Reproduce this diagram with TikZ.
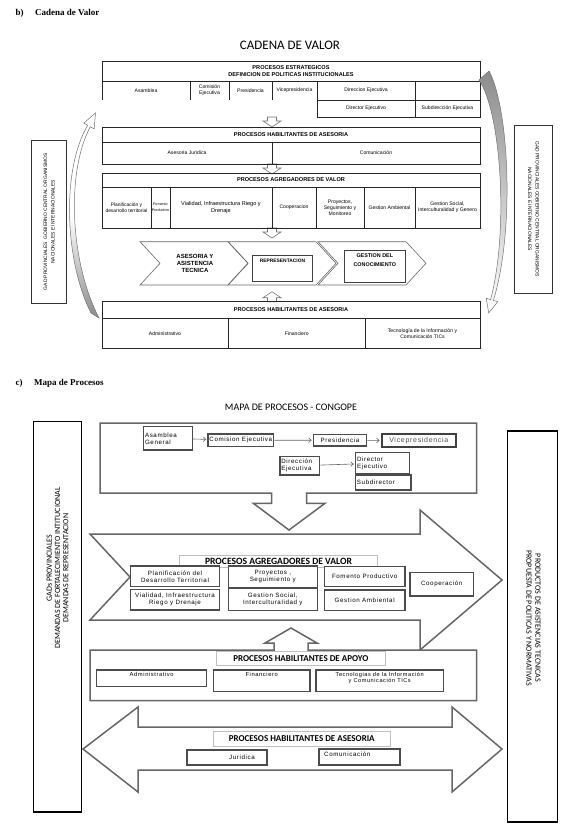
\documentclass[tikz,border=0pt]{standalone}
\usepackage{fontspec}
\setmainfont{Liberation Sans}
\newfontfamily\calibrifont{Carlito}
\newfontfamily\titlefont{Liberation Serif}
\newfontfamily\spacedfont[LetterSpace=10]{Liberation Sans}
\usetikzlibrary{arrows.meta, positioning, calc}
\tikzset{
    tbl_line/.style={draw=black!85, line width=0.6pt},
    tbl_head/.style={font=\bfseries\fontsize{5.6}{6.8}\selectfont, align=center, inner sep=0pt},
    tbl_txt/.style={font=\fontsize{5.1}{6.2}\selectfont, align=center, inner sep=0pt},
    blk_arrow/.style={draw=black!55, fill=white, line width=0.6pt},
    chevron_line/.style={draw=black!60, line width=0.6pt},
    chev_txt/.style={font=\bfseries\fontsize{6}{7}\selectfont, align=center, inner sep=0pt},
    inner_box/.style={draw=black!75, line width=0.9pt},
    side_box/.style={draw=black!80, line width=0.6pt, font=\fontsize{4.9}{7.4}\selectfont, align=center, inner sep=0pt},
    curve_band/.style={draw=black!55, line width=0.5pt, top color=white, bottom color=black!45, middle color=white},
    map_shape/.style={draw=black!60, line width=1.5pt, fill=white},
    map_box/.style={draw=black!70, line width=1.4pt, fill=white, font=\spacedfont\fontsize{6.2}{7}\selectfont, inner sep=1.5pt, align=center},
    map_label/.style={draw=black!25, line width=0.8pt, fill=white, font=\calibrifont\bfseries\fontsize{9}{10}\selectfont, inner sep=0pt},
    map_link/.style={draw=black!60, line width=0.6pt, shorten >=1pt, -{Straight Barb[length=2.5pt, width=4.5pt]}},
    big_box/.style={draw=black, line width=1.3pt},
    big_txt/.style={font=\calibrifont\fontsize{8}{8.4}\selectfont, align=center, inner sep=0pt},
    down_blk/.pic={\draw[blk_arrow] (-4.5,0) -- (4.5,0) -- (4.5,4) -- (9,4) -- (0,10) -- (-9,4) -- (-4.5,4) -- cycle;}
}

\begin{document}
\begin{tikzpicture}[x=1pt, y=-1pt]
    \useasboundingbox (0,0) rectangle (567,834);

    % Titles - Cadena de valor
    \node[anchor=west, font=\titlefont\bfseries\fontsize{9}{10}\selectfont] (secb) at (12,13) {b)\hspace{1.3em}Cadena de Valor};
    \node[font=\calibrifont\fontsize{13}{14}\selectfont] (cvtitle) at (290,45) {CADENA DE VALOR};

    % Procesos estrategicos
    \draw[tbl_line] (102,100) -- (102,61) -- (480,61) -- (480,117) -- (317,117) -- (317,81);
    \draw[tbl_line] (102,81) -- (480,81);
    \draw[tbl_line] (317,100) -- (480,100);
    \foreach \x in {190,229,272} \draw[tbl_line] (\x,81) -- (\x,100);
    \draw[tbl_line] (415,81) -- (415,117);
    \node[tbl_head] (estr) at (291,71) {PROCESOS ESTRATEGICOS\\DEFINICION DE POLITICAS INSTITUCIONALES};
    \node[tbl_txt] (asam) at (146,90.5) {Asamblea};
    \node[tbl_txt] (comi) at (209.5,90.5) {Comisión\\Ejecutiva};
    \node[tbl_txt] (pres) at (250.5,90.5) {Presidencia};
    \node[tbl_txt] (vice) at (294.5,90.5) {Vicepresidencia};
    \node[tbl_txt] (dire) at (366,90.5) {Direccion Ejecutiva};
    \node[tbl_txt] (dtor) at (366,108.5) {Director Ejecutivo};
    \node[tbl_txt] (subd) at (447.5,108.5) {Subdirección Ejecutiva};

    % Arrows between tables
    \foreach \y in {117,164,228} \pic at (272,\y) {down_blk};
    \pic[rotate=180] at (272,301.7) {down_blk};

    % Habilitantes de asesoria
    \draw[tbl_line] (102,127) rectangle (480,164);
    \draw[tbl_line] (102,142) -- (480,142);
    \draw[tbl_line] (272,142) -- (272,164);
    \node[tbl_head] (hab1) at (291,134.5) {PROCESOS HABILITANTES DE ASESORIA};
    \node[tbl_txt] (ajur) at (187,153) {Asesoria Juridica};
    \node[tbl_txt] (acom) at (376,153) {Comunicación};

    % Agregadores de valor
    \draw[tbl_line] (102,173) rectangle (480,228);
    \draw[tbl_line] (102,187) -- (480,187);
    \foreach \x in {151,170,272,316,364,415} \draw[tbl_line] (\x,187) -- (\x,228);
    \node[tbl_head] (agr1) at (291,180) {PROCESOS AGREGADORES DE VALOR};
    \node[tbl_txt, font=\fontsize{4.9}{6.2}\selectfont] (plan) at (126.5,207.5) {Planificación y\\desarrollo territorial};
    \node[tbl_txt, font=\fontsize{3.7}{5.6}\selectfont] (fome) at (160.5,207.5) {Fomento\\Productivo};
    \node[tbl_txt, font=\fontsize{5.6}{6.6}\selectfont] (vial) at (221,207.5) {Vialidad, Infraestructura Riego y\\Drenaje};
    \node[tbl_txt] (coop) at (294,207.5) {Cooperacion};
    \node[tbl_txt] (proy) at (340,207.5) {Proyectos,\\Seguimiento y\\Monitoreo};
    \node[tbl_txt] (gamb) at (389.5,207.5) {Gestion Ambiental};
    \node[tbl_txt] (gsoc) at (447.5,207.5) {Gestion Social,\\Interculturalidad y Genero};

    % Chevrons
    \foreach \x in {140,228,318} \draw[chevron_line] (\x,241.7) -- ++(88,0) -- ++(20,21.6) -- ++(-20,21.7) -- ++(-88,0) -- ++(20,-21.7) -- cycle;
    \node[chev_txt] (asis) at (195,263) {ASESORIA Y\\ASISTENCIA\\TECNICA};
    \node[inner_box, minimum width=60.4pt, minimum height=26.7pt] (repr) at (282.5,268.3) {};
    \node[chev_txt, font=\bfseries\fontsize{4.9}{6}\selectfont, below=4.5pt of repr.north] (reprt) {REPRESENTACION};
    \node[inner_box, minimum width=61.7pt, minimum height=32pt] (gest) at (374.8,266.7) {};
    \node[chev_txt, font=\bfseries\fontsize{5.4}{9}\selectfont, below=3pt of gest.north] (gestt) {GESTION DEL\\CONOCIMIENTO};

    % Habilitantes de asesoria (bottom)
    \draw[tbl_line] (102,301.7) rectangle (480,348.3);
    \draw[tbl_line] (102,318.3) -- (480,318.3);
    \foreach \x in {228.3,365} \draw[tbl_line] (\x,318.3) -- (\x,348.3);
    \node[tbl_head] (hab2) at (291,310) {PROCESOS HABILITANTES DE ASESORIA};
    \node[tbl_txt] (badm) at (165,333.3) {Administrativo};
    \node[tbl_txt] (bfin) at (296.7,333.3) {Financiero};
    \node[tbl_txt] (btic) at (422.5,333.3) {Tecnología de la Información y\\Comunicación TICs};

    % Side boxes and curved arrows
    \node[side_box, rotate=90, minimum width=163.3pt, minimum height=35pt] (gadl) at (49.2,221.7) {GAD PROVINCIALES\ \ GOBIERNO CENTRAL ORGANISMOS\\NACIONALES E INTERNACIONALES};
    \node[side_box, rotate=-90, minimum width=168.3pt, minimum height=38.4pt] (gadr) at (533.5,209.2) {GAD PROVINCIALES  GOBIERNO CENTRAL ORGANISMOS\\NACIONALES E INTERNACIONALES};
    \draw[curve_band] (91,313) .. controls (65,262) and (61,170) .. (87.7,125.3) -- (83.8,123.1) -- (95.5,113) -- (94.2,128.9) -- (90.3,126.7) .. controls (66,172) and (70,262) .. (99,318) -- cycle;
    \draw[curve_band, top color=black!45, bottom color=white] (489,71) .. controls (509,108) and (515,230) .. (493.4,300.4) -- (497.8,301.7) -- (488.7,313) -- (486.2,298.3) -- (490.6,299.6) .. controls (509,230) and (501,112) .. (479,80) -- cycle;

    % Titles - Mapa de procesos
    \node[anchor=west, font=\titlefont\bfseries\fontsize{9}{10}\selectfont] (secc) at (12,383) {c)\hspace{1.3em}Mapa de Procesos};
    \node[font=\calibrifont\fontsize{10}{11}\selectfont] (mptitle) at (291,407) {MAPA DE PROCESOS - CONGOPE};

    % Map shapes
    \draw[map_shape] (100,423) -- (476.7,423) -- (476.7,493) -- (306.7,493) -- (306.7,503.3) -- (325,503.3) -- (289,530) -- (253.3,503.3) -- (271.7,503.3) -- (271.7,493) -- (100,493) -- cycle;
    \draw[map_shape] (90,534) -- (420,534) -- (420,510) -- (502,580) -- (420,650) -- (420,620) -- (90,620) -- (130,577) -- cycle;
    \draw[map_shape] (90,650) -- (274,650) -- (274,643) -- (265,643) -- (291,628) -- (317,643) -- (308,643) -- (308,650) -- (476.7,650) -- (476.7,700.7) -- (90,700.7) -- cycle;
    \draw[map_shape] (83,749) -- (138,707) -- (138,727) -- (452,727) -- (452,707) -- (502,749) -- (452,792) -- (452,770) -- (138,770) -- (138,792) -- cycle;

    % Estrategicos boxes
    \node[map_box, text width=46pt, align=left, minimum height=23.3pt] (asamg) at (168,438.3) {Asamblea\\General};
    \node[map_box, minimum width=51.7pt, minimum height=12.7pt] (comig) at (240.8,440.3) {Comision Ejecutiva};
    \node[map_box, minimum width=53.4pt, minimum height=11.7pt] (presg) at (340,440.2) {Presidencia};
    \node[map_box, draw=black!75, line width=2.2pt, text=black!70, font=\spacedfont\fontsize{7}{8}\selectfont, minimum width=74.3pt, minimum height=13.3pt] (viceg) at (418.8,440.7) {Vicepresidencia};
    \node[map_box, text width=36.7pt, align=left, minimum height=18.3pt] (direg) at (299.7,465.8) {Dirección\\Ejecutiva};
    \node[map_box, text width=51pt, align=left, minimum height=20.6pt] (dtorg) at (382.5,463) {Director\\Ejecutivo};
    \node[map_box, text width=52.7pt, align=left, minimum height=15pt] (subdg) at (383.3,482.5) {Subdirector};
    \draw[map_link] (asamg) -- (comig);
    \draw[map_link] (comig) -- (presg);
    \draw[map_link] (presg) -- (viceg);
    \draw[map_link] (direg) -- (dtorg);

    % Agregadores boxes
    \node[map_label, font=\calibrifont\bfseries\fontsize{9.6}{10.5}\selectfont, minimum width=198.4pt, minimum height=11.6pt] (agrl) at (278.5,561.5) {PROCESOS AGREGADORES DE VALOR};
    \node[map_box, minimum width=88.6pt, minimum height=20.7pt] (plang) at (175,576.3) {Planificación del\\Desarrollo Territorial};
    \node[map_box, minimum width=89pt, minimum height=21.3pt] (proyg) at (272.8,576.7) {Proyectos ,\\Seguimiento y};
    \node[map_box, minimum width=80.7pt, minimum height=20pt] (fomeg) at (364.7,576.7) {Fomento Productivo};
    \node[map_box, minimum width=63.3pt, minimum height=23.3pt] (coopg) at (441.7,584.3) {Cooperación};
    \node[map_box, minimum width=88.6pt, minimum height=20.7pt] (vialg) at (175,599.7) {Vialidad, Infraestructura\\Riego y Drenaje};
    \node[map_box, minimum width=89pt, minimum height=22.4pt] (gsocg) at (272.8,599.5) {Gestion Social,\\Interculturalidad y};
    \node[map_box, minimum width=80.7pt, minimum height=20.7pt] (gambg) at (364.7,600.3) {Gestion Ambiental};

    % Apoyo boxes
    \node[map_label, minimum width=168.3pt, minimum height=13.3pt] (apol) at (300.8,658.3) {PROCESOS HABILITANTES DE APOYO};
    \node[map_box, minimum width=110pt, minimum height=16.7pt] (admg) at (151.7,678.3) {};
    \node[map_box, minimum width=96.7pt, minimum height=21.7pt] (fing) at (261.7,680.8) {};
    \node[map_box, minimum width=127.3pt, minimum height=21.7pt] (tecg) at (379.7,680.8) {};
    \node[map_box, draw=none, fill=none, font=\spacedfont\fontsize{5.8}{6.6}\selectfont, below=0.5pt of admg.north] (admt) {Administrativo};
    \node[map_box, draw=none, fill=none, font=\spacedfont\fontsize{5.8}{6.6}\selectfont, below=0.5pt of fing.north] (fint) {Financiero};
    \node[map_box, draw=none, fill=none, font=\spacedfont\fontsize{5.6}{6.4}\selectfont, below=0.5pt of tecg.north] (tect) {Tecnologias de la Información\\y Comunicación TICs};

    % Asesoria boxes
    \node[map_label, minimum width=176.7pt, minimum height=14.3pt] (asel) at (301.7,738.8) {PROCESOS HABILITANTES DE ASESORIA};
    \node[map_box, line width=2pt, minimum width=79.4pt, minimum height=15pt] (jurg) at (227,757.5) {};
    \node[map_box, line width=2pt, text width=78pt, align=left, minimum height=15.7pt] (comg) at (359.5,757.2) {};
    \node[map_box, draw=none, fill=none] (jurt) at (242,757.5) {Juridica};
    \node[map_box, draw=none, fill=none, anchor=north west] (comt) at (322,749.5) {Comunicación};

    % Demandas y productos
    \node[big_box, minimum width=48.4pt, minimum height=390.3pt] (leftdem) at (57.5,616.8) {};
    \node[big_txt, rotate=90, font=\calibrifont\fontsize{8}{8.3}\selectfont] (leftdemt) at (57.5,568) {GADs PROVINCIALES\\DEMANDAS DE FORTALECIMIENTO INTITUCIONAL\\DEMANDAS DE REPRESENTACION};
    \node[big_box, minimum width=50pt, minimum height=391pt] (rightprod) at (532.3,626.5) {};
    \node[big_txt, rotate=-90, font=\calibrifont\fontsize{8}{9}\selectfont] (rightprodt) at (533.5,618) {PRODUCTOS DE ASISTENCIAS TECNICAS\\PROPUESTA DE POLITICAS Y NORMATIVAS};

\end{tikzpicture}
\end{document}
